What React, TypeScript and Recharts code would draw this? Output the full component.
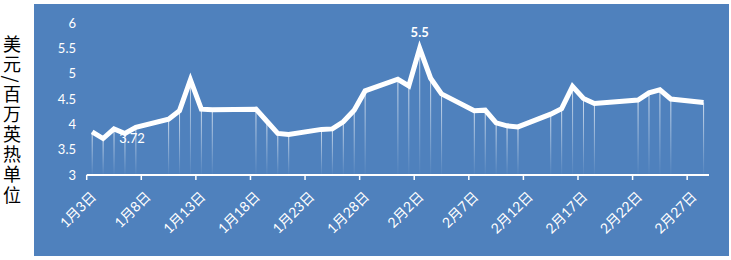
import React from "react";
import { ComposedChart, Line, Bar, XAxis, YAxis, LabelList } from "recharts";

// Henry Hub style daily prices (USD / MMBtu)
const dates = [
  "2011-01-03", "2011-01-04", "2011-01-05", "2011-01-06", "2011-01-07",
  "2011-01-10", "2011-01-11", "2011-01-12", "2011-01-13", "2011-01-14",
  "2011-01-18", "2011-01-19", "2011-01-20", "2011-01-21",
  "2011-01-24", "2011-01-25", "2011-01-26", "2011-01-27", "2011-01-28",
  "2011-01-31", "2011-02-01", "2011-02-02", "2011-02-03", "2011-02-04",
  "2011-02-07", "2011-02-08", "2011-02-09", "2011-02-10", "2011-02-11",
  "2011-02-14", "2011-02-15", "2011-02-16", "2011-02-17", "2011-02-18",
  "2011-02-22", "2011-02-23", "2011-02-24", "2011-02-25",
  "2011-02-28",
];
const prices = [
  3.85, 3.72, 3.91, 3.82, 3.94,
  4.10, 4.27, 4.88, 4.30, 4.29,
  4.30, 4.06, 3.82, 3.80,
  3.90, 3.91, 4.05, 4.28, 4.66,
  4.89, 4.76, 5.5, 4.91, 4.60,
  4.27, 4.28, 4.03, 3.97, 3.95,
  4.20, 4.31, 4.75, 4.51, 4.41,
  4.48, 4.62, 4.68, 4.50,
  4.43,
];
const tickDates = [
  "2011-01-03", "2011-01-08", "2011-01-13", "2011-01-18", "2011-01-23", "2011-01-28",
  "2011-02-02", "2011-02-07", "2011-02-12", "2011-02-17", "2011-02-22", "2011-02-27",
];
const axisStart = "2011-01-03";
const axisEnd = "2011-03-01";
const yTicks = [3, 3.5, 4, 4.5, 5, 5.5, 6];
const labeledDates = ["2011-01-04", "2011-02-02"];
const yTitleA = "美元";
const yTitleSep = "/";
const yTitleB = "百万英热单位";

const DAY = 86400000;
const dayOffset = (d: string) =>
  Math.round((Date.parse(d + "T00:00:00Z") - Date.parse(axisStart + "T00:00:00Z")) / DAY);

const chartData = dates.map((d, i) => ({
  day: dayOffset(d) + 0.5,
  price: prices[i],
  date: d,
}));
const tickValues = tickDates.map(dayOffset);
const tickLabel = (v: number) => {
  const t = new Date(Date.parse(axisStart + "T00:00:00Z") + v * DAY);
  return `${t.getUTCMonth() + 1}月${t.getUTCDate()}日`;
};

const FONT = "Lato, 'Noto Sans CJK SC', sans-serif";

const DateTick = (props: any) => {
  const { x, y, payload } = props;
  return (
    <g transform={`translate(${x + 7},${y + 14})`}>
      <text
        x={0}
        y={0}
        dy="0.35em"
        textAnchor="end"
        transform="rotate(-45)"
        fill="#ffffff"
        fontSize={14}
        fontFamily={FONT}
      >
        {tickLabel(payload.value)}
      </text>
    </g>
  );
};

const PointLabel = (props: any) => {
  const { x, y, value, index } = props;
  const d = chartData[index];
  if (!d || !labeledDates.includes(d.date)) return null;
  const isMax = value === Math.max(...prices);
  if (isMax) {
    return (
      <text x={x} y={y - 16} dy="0.35em" textAnchor="middle" fill="#fff" fontSize={13} fontWeight="bold" fontFamily={FONT}>
        {value}
      </text>
    );
  }
  return (
    <text x={x + 29} y={y} dy="0.35em" textAnchor="middle" fill="#fff" fontSize={13} fontFamily={FONT}>
      {value}
    </text>
  );
};

export default function App() {
  return (
    <div style={{ position: "absolute", left: 0, top: 0, width: 731, height: 260, background: "#ffffff", overflow: "hidden" }}>
      <div style={{ position: "absolute", left: 34, top: 4, width: 695, height: 252, background: "#4F81BD" }} />
      <div
        style={{
          position: "absolute",
          left: 2,
          top: 35,
          width: 20,
          writingMode: "vertical-rl",
          fontFamily: "'Noto Sans CJK SC', sans-serif",
          fontSize: 18,
          lineHeight: "20px",
          letterSpacing: 2.2,
          color: "#000",
        }}
      >
        {yTitleA}
        <span style={{ textOrientation: "sideways" }}>{yTitleSep}</span>
        {yTitleB}
      </div>
      <div style={{ position: "absolute", left: 0, top: 0 }}>
        <ComposedChart
          width={731}
          height={260}
          data={chartData}
          margin={{ top: 23, right: 22, bottom: 25, left: 0 }}
        >
          <defs>
            <linearGradient id="dropGrad" x1="0" y1="0" x2="0" y2="1">
              <stop offset="0%" stopColor="#ffffff" stopOpacity={0.75} />
              <stop offset="100%" stopColor="#ffffff" stopOpacity={0.02} />
            </linearGradient>
          </defs>
          <XAxis
            dataKey="day"
            type="number"
            domain={[0, dayOffset(axisEnd)]}
            ticks={tickValues}
            interval={0}
            height={60}
            axisLine={{ stroke: "#ffffff", strokeWidth: 2 }}
            tickLine={{ stroke: "#ffffff", strokeWidth: 1.5 }}
            tickSize={5}
            tickMargin={0}
            tick={<DateTick />}
            allowDataOverflow
          />
          <YAxis
            type="number"
            domain={[3, 6]}
            ticks={yTicks}
            width={86.7}
            axisLine={false}
            tickLine={false}
            tickSize={0}
            tickMargin={10.7}
            tick={{ fill: "#ffffff", fontSize: 13, fontFamily: FONT }}
            allowDataOverflow
          />
          <Bar dataKey="price" barSize={1} fill="url(#dropGrad)" isAnimationActive={false} />
          <Line
            dataKey="price"
            type="linear"
            stroke="#ffffff"
            strokeWidth={5}
            dot={false}
            activeDot={false}
            isAnimationActive={false}
          >
            <LabelList dataKey="price" content={<PointLabel />} />
          </Line>
        </ComposedChart>
      </div>
    </div>
  );
}
